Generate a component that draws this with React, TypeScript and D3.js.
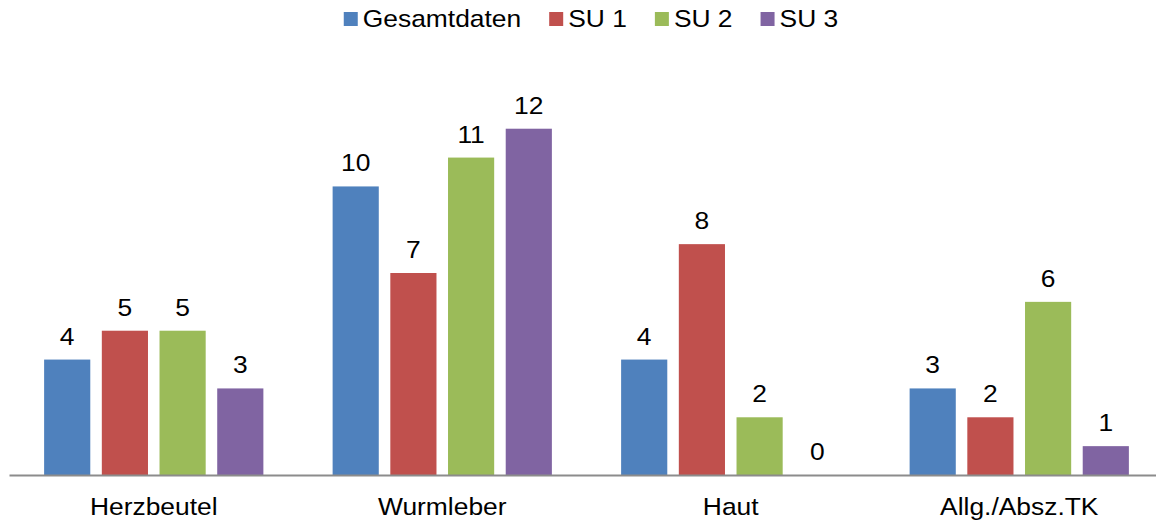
import React, { useEffect, useRef } from 'react';
import { select, scaleBand, scaleLinear } from 'd3';

const categories = ['Herzbeutel', 'Wurmleber', 'Haut', 'Allg./Absz.TK'];
const seriesNames = ['Gesamtdaten', 'SU 1', 'SU 2', 'SU 3'];
const gesamtdaten = [4, 10, 4, 3];
const su1 = [5, 7, 8, 2];
const su2 = [5, 11, 2, 6];
const su3 = [3, 12, 0, 1];
const colors = ['#4f81bd', '#c0504d', '#9bbb59', '#8064a2'];

const W = 1156;
const H = 522;
const FONT = '"Liberation Sans", Arial, sans-serif';
const FS = 24;
const SX = 1.1; // the reference text looks a little stretched sideways

function App() {
  const svgRef = useRef<SVGSVGElement>(null);

  useEffect(() => {
    const svg = select(svgRef.current);
    svg.selectAll('*').remove();

    const series = [gesamtdaten, su1, su2, su3];

    // scales
    const x0 = scaleBand<string>().domain(categories).range([9.5, 1163.5]);
    const x1 = scaleBand<string>()
      .domain(seriesNames)
      .range([0, x0.bandwidth()])
      .paddingInner(0.2)
      .paddingOuter(0.6);
    const y = scaleLinear().domain([0, 14]).range([475, 71]);

    // bars + value labels
    const groups = svg
      .selectAll('.group')
      .data(categories)
      .join('g')
      .attr('class', 'group')
      .attr('transform', (d) => `translate(${x0(d)},0)`);

    groups.each(function (cat, ci) {
      const g = select(this);
      seriesNames.forEach((name, si) => {
        const v = series[si][ci];
        const bx = x1(name)!;
        if (v > 0) {
          g.append('rect')
            .attr('x', bx)
            .attr('y', y(v))
            .attr('width', x1.bandwidth())
            .attr('height', y(0) - y(v))
            .attr('fill', colors[si]);
        }
        const cx = bx + x1.bandwidth() / 2;
        g.append('text')
          .attr('transform', `translate(${cx},${y(v) - 15}) scale(${SX},1)`)
          .attr('text-anchor', 'middle')
          .attr('font-family', FONT)
          .attr('font-size', FS)
          .attr('fill', '#000')
          .text(v);
      });
    });

    // axis line
    svg.append('line')
      .attr('x1', 9.5)
      .attr('x2', 1163.5)
      .attr('y1', y(0) + 0.5)
      .attr('y2', y(0) + 0.5)
      .attr('stroke', '#8c8c8c')
      .attr('stroke-width', 2);

    // category labels
    svg.selectAll('.cat')
      .data(categories)
      .join('text')
      .attr('class', 'cat')
      .attr('transform', (d) => `translate(${x0(d)! + x0.bandwidth() / 2},515) scale(${SX},1)`)
      .attr('text-anchor', 'middle')
      .attr('font-family', FONT)
      .attr('font-size', FS)
      .attr('fill', '#000')
      .text((d) => d);

    // legend, centred at the top
    const legend = svg.append('g');
    let cursor = 0;
    seriesNames.forEach((name, i) => {
      const item = legend.append('g').attr('transform', `translate(${cursor},0)`);
      item.append('rect')
        .attr('x', 0)
        .attr('y', 12)
        .attr('width', 14)
        .attr('height', 14)
        .attr('fill', colors[i]);
      const t = item.append('text')
        .attr('transform', `translate(19,27) scale(${SX},1)`)
        .attr('font-family', FONT)
        .attr('font-size', FS)
        .attr('fill', '#000')
        .text(name);
      const tw = (t.node() as SVGTextElement).getComputedTextLength() * SX;
      cursor += 19 + tw + 28;
    });
    const legendWidth = cursor - 28;
    legend.attr('transform', `translate(${591 - legendWidth / 2},0)`);
  }, []);

  return (
    <svg
      ref={svgRef}
      width={W}
      height={H}
      style={{ position: 'absolute', left: 0, top: 0, background: '#fff' }}
    />
  );
}

export default App;
